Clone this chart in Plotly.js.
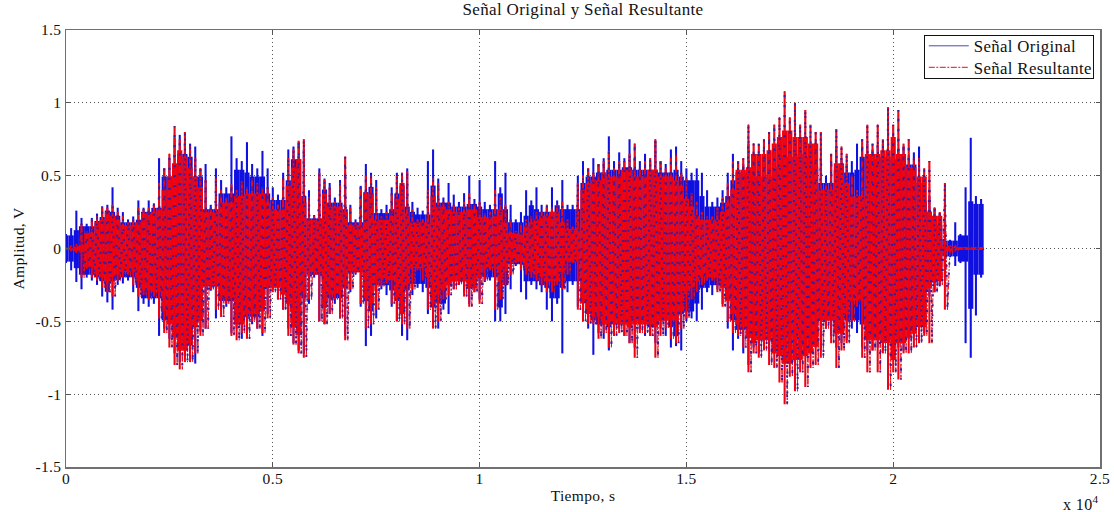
<!DOCTYPE html>
<html><head><meta charset="utf-8">
<script src="https://cdn.plot.ly/plotly-3.0.1.min.js"></script>
<style>html,body{margin:0;padding:0;background:#fff}#g{width:1114px;height:512px}
#g svg text{letter-spacing:.35px}
.legendlines path{stroke-width:1px !important}
</style>
</head><body><div id="g"></div>
<script>
const sampleStep = 125;
const blueTop = [
.10,.14,.26,.21,.17,.21,.24,.29,.30,.42,
.28,.25,.20,.22,.33,.28,.33,.31,.62,.55,
.62,.76,.78,.72,.72,.70,.55,.58,.30,.55,
.47,.42,.77,.62,.60,.73,.58,.55,.67,.55,
.42,.37,.52,.68,.70,.73,.68,.40,.23,.55,
.48,.45,.35,.47,.52,.30,.20,.43,.58,.52,
.47,.27,.30,
.42,.52,.48,.55,.32,.28,.26,.60,.68,.48,
.35,.45,.37,.32,.38,.50,.34,.47,.32,.30,
.60,.42,.52,.30,.20,.25,.40,.33,.42,.30,
.28,.42,.33,.47,.30,.30,.50,.60,.55,.62,
.58,.62,.77,.60,.66,.62,.75,.62,.60,.65,
.60,.74,.60,.58,.68,.70,.60,.55,.52,.55,
.52,.40,.32,.35,.40,.52,.65,.60,.58,.72,
.60,.55,.55,.62,.70,.72,.78,.70,.74,.72,
.72,.70,.68,.62,.50,.60,.70,.62,.58,.60,
.72,.70,.72,.68,.70,.72,.70,.70,.68,.70,
.64,.66,.70,.50,.36,.28,.24,.18,.06,.18,
.10,.42,.76,.36,.34];
const blueBottom = [
-.10,-.15,-.23,-.28,-.20,-.22,-.25,-.33,-.37,-.42,
-.25,-.24,-.22,-.30,-.43,-.38,-.40,-.38,-.60,-.55,
-.62,-.72,-.78,-.74,-.75,-.79,-.57,-.55,-.29,-.48,
-.42,-.40,-.58,-.55,-.62,-.58,-.52,-.55,-.60,-.45,
-.28,-.35,-.42,-.55,-.65,-.70,-.72,-.38,-.20,-.50,
-.52,-.45,-.38,-.48,-.60,-.30,-.18,-.40,-.67,-.60,
-.48,-.28,-.32,
-.40,-.50,-.60,-.63,-.32,-.27,-.30,-.45,-.52,-.55,
-.42,-.45,-.28,-.25,-.30,-.38,-.30,-.35,-.23,-.22,
-.50,-.50,-.45,-.28,-.12,-.30,-.35,-.25,-.28,-.30,
-.42,-.50,-.38,-.72,-.30,-.25,-.40,-.50,-.55,-.73,
-.58,-.62,-.70,-.60,-.55,-.60,-.65,-.68,-.55,-.60,
-.60,-.65,-.55,-.60,-.68,-.67,-.70,-.50,-.48,-.50,
-.42,-.30,-.32,-.28,-.38,-.55,-.70,-.62,-.72,-.80,
-.68,-.72,-.62,-.70,-.72,-.70,-.72,-.68,-.72,-.72,
-.70,-.70,-.68,-.70,-.55,-.60,-.68,-.65,-.63,-.55,
-.58,-.68,-.70,-.70,-.68,-.70,-.72,-.70,-.68,-.70,
-.62,-.60,-.62,-.58,-.33,-.30,-.26,-.20,-.06,-.12,
-.10,-.65,-.75,-.46,-.20];
const redTop = [
.01,.02,.03,.17,.12,.20,.22,.28,.28,.30,
.25,.22,.18,.20,.28,.27,.28,.30,.45,.55,
.65,.84,.75,.80,.70,.62,.55,.47,.28,.48,
.40,.35,.44,.40,.46,.42,.48,.45,.42,.42,
.35,.30,.48,.62,.68,.74,.75,.35,.22,.52,
.47,.42,.32,.45,.63,.28,.18,.42,.50,.50,
.42,.22,.25,
.38,.50,.52,.53,.27,.20,.20,.40,.48,.45,
.32,.32,.30,.28,.32,.38,.30,.32,.24,.25,
.40,.35,.30,.20,.12,.17,.20,.22,.25,.25,
.30,.28,.30,.32,.20,.15,.45,.50,.55,.52,
.58,.60,.67,.55,.60,.60,.65,.72,.55,.60,
.62,.75,.60,.55,.62,.65,.52,.48,.38,.32,
.25,.22,.22,.28,.35,.45,.60,.60,.62,.85,
.72,.72,.75,.80,.85,.90,1.08,.90,1.00,.85,
.95,.85,.80,.80,.45,.65,.82,.70,.65,.50,
.40,.75,.85,.72,.85,.75,.97,.85,.95,.72,
.75,.62,.62,.55,.60,.28,.25,.45,.02,.02,
.01,.01,.01,.01,.01];
const redBottom = [
-.01,-.02,-.03,-.20,-.14,-.20,-.22,-.27,-.30,-.33,
-.22,-.20,-.18,-.25,-.33,-.32,-.35,-.33,-.48,-.58,
-.68,-.80,-.83,-.78,-.78,-.72,-.60,-.55,-.28,-.42,
-.47,-.38,-.60,-.63,-.58,-.62,-.50,-.55,-.58,-.48,
-.30,-.35,-.42,-.60,-.66,-.72,-.75,-.35,-.18,-.50,
-.52,-.45,-.35,-.48,-.63,-.28,-.17,-.38,-.55,-.52,
-.42,-.26,-.24,
-.38,-.50,-.52,-.55,-.28,-.15,-.22,-.42,-.55,-.50,
-.35,-.32,-.28,-.25,-.33,-.40,-.30,-.38,-.22,-.15,
-.42,-.35,-.25,-.18,-.10,-.15,-.18,-.20,-.22,-.25,
-.30,-.30,-.25,-.28,-.18,-.10,-.42,-.50,-.52,-.52,
-.62,-.58,-.68,-.60,-.58,-.60,-.65,-.75,-.58,-.58,
-.60,-.75,-.60,-.55,-.62,-.65,-.55,-.48,-.35,-.30,
-.25,-.22,-.22,-.30,-.40,-.50,-.58,-.60,-.68,-.85,
-.72,-.75,-.70,-.80,-.82,-.92,-1.07,-.88,-.98,-.85,
-.95,-.82,-.80,-.75,-.55,-.65,-.82,-.70,-.65,-.50,
-.40,-.75,-.85,-.70,-.85,-.72,-.97,-.85,-.90,-.72,
-.72,-.68,-.65,-.60,-.65,-.30,-.25,-.42,-.03,-.02,
-.01,-.01,-.01,-.01,-.01];
const xTickVals = [0,5000,10000,15000,20000,25000];
const xTickText = ['0','0.5','1','1.5','2','2.5'];
const yTickVals = [-1.5,-1,-0.5,0,0.5,1,1.5];
const yTickText = ['-1.5','-1','-0.5','0','0.5','1','1.5'];

const times = blueTop.map((_,i)=>i*sampleStep);
function sweep(top, bottom){
  const x=[], y=[];
  for(let i=0;i<top.length;i++){
    x.push(times[i], times[i]+sampleStep/2);
    y.push(top[i], bottom[i]);
  }
  return {x,y};
}
// Solid body of the signal: each sample clipped by its neighbours, so only the true peaks stand out as spikes.
function bodyOf(a, pick){
  return a.map((v,i)=>0.9*pick(v, a[Math.max(i-1,0)], a[Math.min(i+1,a.length-1)]));
}
function bars(top, bottom, color, w){
  return {type:'bar',x:times,y:top.map((v,i)=>v-bottom[i]),base:bottom,width:w,showlegend:false,hoverinfo:'skip',
    marker:{color:color,line:{width:0}}};
}
const serif='"Liberation Serif","Times New Roman",serif';
const r=sweep(redTop,redBottom);
const blue='#1010e0', red='#f00010';
const traces=[
 bars(bodyOf(blueTop,Math.min),bodyOf(blueBottom,Math.max),blue,sampleStep),
 bars(blueTop,blueBottom,blue,sampleStep*0.4),
 bars(bodyOf(redTop,Math.min),bodyOf(redBottom,Math.max),red,sampleStep),
 bars(redTop,redBottom,red,sampleStep*0.4),
 {x:[0],y:[0],mode:'lines',name:'Señal Original',line:{color:'#4a4ab0',width:1}},
 {x:r.x,y:r.y,mode:'lines',name:'Señal Resultante',line:{color:'#e01020',width:1,dash:'6px,1.5px,2px,1.5px',simplify:false}},
 {x:r.x,y:r.y,mode:'lines',showlegend:false,line:{color:'#3a1c9c',width:1.9,dash:'2px,8px',simplify:false},hoverinfo:'skip'}
];
const axis={showline:true,linecolor:'#707070',linewidth:1.5,mirror:'ticks',ticks:'inside',ticklen:4,tickcolor:'#555',
  showgrid:true,gridcolor:'#555',griddash:'1px,3px',gridwidth:1,zeroline:false,tickfont:{family:serif,size:15.5,color:'#111'}};
const layout={
 width:1114,height:512,paper_bgcolor:'#fff',plot_bgcolor:'#fff',showlegend:true,barmode:'overlay',
 margin:{l:66,r:14,t:30,b:45,pad:0},
 title:{text:'Señal Original y Señal Resultante',font:{family:serif,size:17,color:'#111'},x:0.5,xref:'paper',y:0.982,yref:'container',yanchor:'middle'},
 xaxis:Object.assign({},axis,{range:[0,25000],tickmode:'array',tickvals:xTickVals,ticktext:xTickText,ticklabelstandoff:-3,
   title:{text:'Tiempo, s',font:{family:serif,size:15.5,color:'#111'},standoff:4}}),
 yaxis:Object.assign({},axis,{range:[-1.5,1.5],tickmode:'array',tickvals:yTickVals,ticktext:yTickText,
   title:{text:'Amplitud, V',font:{family:serif,size:15.5,color:'#111'},standoff:8}}),
 legend:{x:0.994,xanchor:'right',y:0.989,yanchor:'top',bgcolor:'#fff',bordercolor:'#111',borderwidth:1,
   font:{family:serif,size:16.8,color:'#111'},itemwidth:40,tracegroupgap:0},
 annotations:[{xref:'paper',yref:'paper',x:1,y:0,xanchor:'right',yanchor:'top',yshift:-24,showarrow:false,
   text:'x 10<sup>4</sup>',font:{family:serif,size:16,color:'#111'}}]
};
Plotly.newPlot('g',traces,layout,{displayModeBar:false,staticPlot:true}).then(function(gd){
  const bg=gd.querySelector('.legend .bg');
  if(bg) bg.setAttribute('height','43');
  const rows=gd.querySelectorAll('.legend .traces');
  rows.forEach(function(t,i){ t.setAttribute('transform','translate(0,'+(11+i*21.5)+')'); });
});
</script></body></html>
